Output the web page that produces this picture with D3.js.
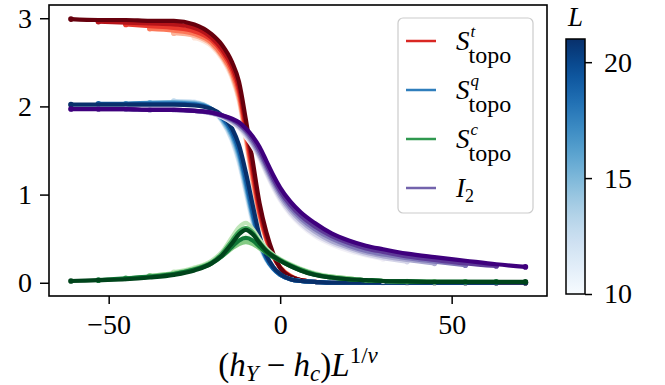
<!DOCTYPE html>
<html>
<head>
<meta charset="utf-8">
<script src="https://cdn.jsdelivr.net/npm/d3@7"></script>
<style>
  html, body { margin: 0; padding: 0; background: #fff; }
  svg { display: block; }
  text { font-family: "Liberation Serif", "Times New Roman", serif; fill: #000; }
</style>
</head>
<body>
<svg id="chart" width="665" height="385"></svg>
<script>
// Scaling variable (h_Y - h_c) L^{1/nu}, shared sample grid for all system sizes
const X_GRID = [-61, -53, -45, -38, -31, -25, -20, -17, -14, -12, -10, -8, -6, -4, -2, 0, 3, 6, 10, 15, 20, 25, 30, 37, 45, 54, 63, 71.5];
// System sizes L (one curve per size and quantity)
const SIZES = [11, 13, 15, 17, 19, 21];
const _ = null;

// S^t_topo, one row per size in SIZES
const sTopoT = [
  [_,_,_,_,_, 2.78, 2.68, 2.54, 2.31, 2.05, 1.60, 1.12, 0.73, 0.47, 0.30, 0.18, 0.08, 0.03, 0.01, 0, 0, 0, 0, _,_,_,_,_],
  [_,_,_,_, 2.83, 2.80, 2.70, 2.56, 2.34, 2.08, 1.63, 1.15, 0.75, 0.48, 0.30, 0.18, 0.08, 0.03, 0.01, 0, 0, 0, 0, 0, _,_,_,_],
  [_,_,_, 2.88, 2.86, 2.82, 2.72, 2.58, 2.37, 2.12, 1.67, 1.19, 0.77, 0.49, 0.30, 0.17, 0.08, 0.03, 0.01, 0, 0, 0, 0, 0, 0, _,_,_],
  [_,_, 2.93, 2.91, 2.89, 2.85, 2.75, 2.62, 2.41, 2.17, 1.72, 1.24, 0.80, 0.50, 0.30, 0.17, 0.07, 0.03, 0.01, 0, 0, 0, 0, 0, 0, 0, _,_],
  [_, 2.96, 2.95, 2.94, 2.93, 2.89, 2.78, 2.65, 2.45, 2.22, 1.78, 1.30, 0.84, 0.53, 0.31, 0.17, 0.07, 0.03, 0.01, 0, 0, 0, 0, 0, 0, 0, 0, _],
  [2.99, 2.98, 2.98, 2.97, 2.97, 2.93, 2.82, 2.70, 2.50, 2.28, 1.85, 1.38, 0.90, 0.57, 0.33, 0.17, 0.07, 0.03, 0.01, 0, 0, 0, 0, 0, 0, 0, 0, 0]
];

// S^q_topo
const sTopoQ = [
  [_,_,_,_,_, 2.05, 1.96, 1.83, 1.60, 1.35, 1.01, 0.67, 0.41, 0.25, 0.15, 0.09, 0.04, 0.02, 0.01, 0, 0, 0, 0, _,_,_,_,_],
  [_,_,_,_, 2.06, 2.05, 1.97, 1.84, 1.62, 1.38, 1.04, 0.70, 0.43, 0.26, 0.16, 0.09, 0.04, 0.02, 0.01, 0, 0, 0, 0, 0, _,_,_,_],
  [_,_,_, 2.04, 2.05, 2.04, 1.97, 1.85, 1.65, 1.42, 1.08, 0.73, 0.44, 0.27, 0.16, 0.09, 0.04, 0.02, 0.01, 0, 0, 0, 0, 0, 0, _,_,_],
  [_,_, 2.03, 2.04, 2.04, 2.03, 1.97, 1.87, 1.68, 1.46, 1.12, 0.76, 0.46, 0.27, 0.16, 0.09, 0.04, 0.02, 0.01, 0, 0, 0, 0, 0, 0, 0, _,_],
  [_, 2.03, 2.03, 2.03, 2.03, 2.02, 1.97, 1.88, 1.71, 1.50, 1.17, 0.80, 0.48, 0.28, 0.16, 0.09, 0.04, 0.02, 0.01, 0, 0, 0, 0, 0, 0, 0, 0, _],
  [2.02, 2.02, 2.02, 2.02, 2.02, 2.01, 1.97, 1.90, 1.75, 1.56, 1.25, 0.88, 0.53, 0.31, 0.18, 0.10, 0.04, 0.02, 0.01, 0, 0, 0, 0, 0, 0, 0, 0, 0]
];

// S^c_topo
const sTopoC = [
  [_,_,_,_,_, 0.17, 0.24, 0.31, 0.41, 0.48, 0.53, 0.50, 0.43, 0.36, 0.30, 0.26, 0.20, 0.15, 0.10, 0.07, 0.05, 0.03, 0.02, _,_,_,_,_],
  [_,_,_,_, 0.12, 0.17, 0.25, 0.35, 0.52, 0.63, 0.68, 0.61, 0.49, 0.39, 0.32, 0.27, 0.21, 0.16, 0.11, 0.07, 0.05, 0.03, 0.02, 0.015, _,_,_,_],
  [_,_,_, 0.08, 0.11, 0.16, 0.23, 0.30, 0.39, 0.44, 0.46, 0.44, 0.39, 0.34, 0.29, 0.25, 0.20, 0.15, 0.10, 0.07, 0.05, 0.03, 0.02, 0.015, 0.01, _,_,_],
  [_,_, 0.05, 0.07, 0.10, 0.15, 0.23, 0.33, 0.48, 0.58, 0.62, 0.57, 0.46, 0.37, 0.31, 0.26, 0.20, 0.15, 0.10, 0.06, 0.04, 0.03, 0.02, 0.015, 0.01, 0.01, _,_],
  [_, 0.03, 0.05, 0.07, 0.10, 0.15, 0.22, 0.30, 0.41, 0.48, 0.51, 0.48, 0.41, 0.34, 0.29, 0.25, 0.19, 0.14, 0.09, 0.06, 0.04, 0.03, 0.02, 0.015, 0.01, 0.01, 0.01, _],
  [0.02, 0.03, 0.04, 0.06, 0.09, 0.14, 0.22, 0.31, 0.45, 0.55, 0.60, 0.55, 0.45, 0.36, 0.30, 0.25, 0.19, 0.14, 0.09, 0.06, 0.04, 0.03, 0.02, 0.015, 0.01, 0.01, 0.01, 0.01]
];

// I_2
const iTwo = [
  [_,_,_,_,_, 1.95, 1.92, 1.88, 1.81, 1.75, 1.65, 1.54, 1.40, 1.23, 1.07, 0.93, 0.77, 0.65, 0.53, 0.43, 0.36, 0.31, 0.27, _,_,_,_,_],
  [_,_,_,_, 1.96, 1.95, 1.92, 1.88, 1.82, 1.76, 1.67, 1.56, 1.42, 1.25, 1.09, 0.95, 0.79, 0.67, 0.55, 0.45, 0.38, 0.32, 0.28, 0.24, _,_,_,_],
  [_,_,_, 1.96, 1.96, 1.95, 1.92, 1.89, 1.83, 1.77, 1.69, 1.58, 1.44, 1.28, 1.12, 0.98, 0.82, 0.70, 0.58, 0.47, 0.40, 0.34, 0.30, 0.26, 0.22, _,_,_],
  [_,_, 1.97, 1.96, 1.96, 1.95, 1.93, 1.89, 1.84, 1.79, 1.71, 1.60, 1.47, 1.31, 1.15, 1.01, 0.85, 0.73, 0.61, 0.50, 0.42, 0.36, 0.32, 0.28, 0.24, 0.20, _,_],
  [_, 1.97, 1.97, 1.96, 1.96, 1.95, 1.93, 1.90, 1.85, 1.80, 1.73, 1.63, 1.50, 1.34, 1.18, 1.04, 0.88, 0.76, 0.64, 0.53, 0.45, 0.39, 0.35, 0.30, 0.26, 0.22, 0.19, _],
  [1.97, 1.97, 1.97, 1.96, 1.96, 1.95, 1.93, 1.90, 1.86, 1.82, 1.75, 1.66, 1.54, 1.38, 1.22, 1.08, 0.92, 0.80, 0.68, 0.56, 0.48, 0.42, 0.38, 0.33, 0.29, 0.25, 0.21, 0.18]
];

const X_TICKS = [-50, 0, 50];
const Y_TICKS = [0, 1, 2, 3];
const CBAR_TICKS = [10, 15, 20];
const CBAR_RANGE = [10, 21];

const QUANTITIES = [
  { key: "t", values: sTopoT, cmap: d3.interpolateReds },
  { key: "q", values: sTopoQ, cmap: d3.interpolateBlues },
  { key: "c", values: sTopoC, cmap: d3.interpolateGreens },
  { key: "I", values: iTwo,   cmap: d3.interpolatePurples }
];

const FONT = "Liberation Serif";
const svg = d3.select("#chart");
const plot = { left: 49, right: 547, top: 5, bottom: 296 };

const x = d3.scaleLinear().domain([-67.4, 77.8]).range([plot.left, plot.right]);
const y = d3.scaleLinear().domain([-0.15, 3.15]).range([plot.bottom, plot.top]);
const sizeNorm = d3.scaleLinear().domain(CBAR_RANGE).range([0, 1]);

const line = d3.line()
  .defined(d => d[1] !== null)
  .x(d => x(d[0]))
  .y(d => y(d[1]))
  .curve(d3.curveMonotoneX);

const curves = svg.append("g");
QUANTITIES.forEach(q => {
  SIZES.forEach((L, i) => {
    const pts = X_GRID.map((xv, j) => [xv, q.values[i][j]]);
    const col = q.cmap(sizeNorm(L));
    curves.append("path")
      .attr("d", line(pts))
      .attr("fill", "none")
      .attr("stroke", col)
      .attr("stroke-width", 4.2)
      .attr("stroke-linejoin", "round")
      .attr("stroke-linecap", "round");
    const defined = pts.filter(d => d[1] !== null);
    curves.selectAll(null)
      .data([defined[0], defined[defined.length - 1]])
      .join("circle")
      .attr("cx", d => x(d[0]))
      .attr("cy", d => y(d[1]))
      .attr("r", 2.8)
      .attr("fill", col);
  });
});

// Axes
const xAxis = d3.axisBottom(x).tickValues(X_TICKS).tickSize(8).tickPadding(10);
const yAxis = d3.axisLeft(y).tickValues(Y_TICKS).tickFormat(d3.format("d")).tickSize(9).tickPadding(8);

const gx = svg.append("g").attr("transform", `translate(0,${plot.bottom})`).call(xAxis);
const gy = svg.append("g").attr("transform", `translate(${plot.left},0)`).call(yAxis);
[gx, gy].forEach(g => {
  g.attr("font-family", FONT);
  g.select(".domain").remove();
  g.selectAll(".tick line").attr("stroke", "#000").attr("stroke-width", 1.5);
  g.selectAll(".tick text").attr("font-size", 28).attr("font-family", FONT);
});

svg.append("rect")
  .attr("x", plot.left).attr("y", plot.top)
  .attr("width", plot.right - plot.left).attr("height", plot.bottom - plot.top)
  .attr("fill", "none").attr("stroke", "#000").attr("stroke-width", 1.6);

// X axis label: (h_Y - h_c) L^{1/nu}
const xl = svg.append("text")
  .attr("x", (plot.left + plot.right) / 2)
  .attr("y", 376)
  .attr("text-anchor", "middle")
  .attr("font-size", 33);
xl.append("tspan").text("(");
xl.append("tspan").attr("font-style", "italic").text("h");
xl.append("tspan").attr("font-style", "italic").attr("font-size", 23).attr("dy", 5).text("Y");
xl.append("tspan").attr("dy", -5).text(" − ");
xl.append("tspan").attr("font-style", "italic").text("h");
xl.append("tspan").attr("font-style", "italic").attr("font-size", 23).attr("dy", 5).text("c");
xl.append("tspan").attr("dy", -5).text(")");
xl.append("tspan").attr("font-style", "italic").text("L");
xl.append("tspan").attr("font-size", 23).attr("dy", -13).text("1/");
xl.append("tspan").attr("font-size", 23).attr("font-style", "italic").text("ν");

// Legend
const legend = svg.append("g");
legend.append("rect")
  .attr("x", 398).attr("y", 18).attr("width", 135).attr("height", 195)
  .attr("rx", 5)
  .attr("fill", "#fff").attr("fill-opacity", 0.8)
  .attr("stroke", "#cccccc").attr("stroke-width", 1.2);

const legendItems = [
  { cmap: d3.interpolateReds,    base: "S", sup: "t", sub: "topo" },
  { cmap: d3.interpolateBlues,   base: "S", sup: "q", sub: "topo" },
  { cmap: d3.interpolateGreens,  base: "S", sup: "c", sub: "topo" },
  { cmap: d3.interpolatePurples, base: "I", sup: null, sub: "2" }
];
legendItems.forEach((it, i) => {
  const cy = 41 + i * 49;
  legend.append("line")
    .attr("x1", 406).attr("x2", 436).attr("y1", cy).attr("y2", cy)
    .attr("stroke", it.cmap(0.7)).attr("stroke-width", 2.5);
  const base = legend.append("text")
    .attr("x", 456).attr("y", cy + 9)
    .attr("font-size", 27).attr("font-style", "italic")
    .text(it.base);
  const w = base.node().getComputedTextLength();
  if (it.sup) {
    legend.append("text")
      .attr("x", 456 + w + 1).attr("y", cy - 4)
      .attr("font-size", 17).attr("font-style", "italic")
      .text(it.sup);
    legend.append("text")
      .attr("x", 456 + w - 1).attr("y", cy + 22)
      .attr("font-size", 24)
      .text(it.sub);
  } else {
    legend.append("text")
      .attr("x", 456 + w).attr("y", cy + 14)
      .attr("font-size", 18)
      .text(it.sub);
  }
});

// Colour bar for system size L
const cb = { x: 566, w: 19, top: 39, bottom: 294 };
const cbScale = d3.scaleLinear().domain(CBAR_RANGE).range([cb.bottom, cb.top]);
const defs = svg.append("defs");
const grad = defs.append("linearGradient")
  .attr("id", "cbGrad").attr("x1", 0).attr("y1", 1).attr("x2", 0).attr("y2", 0);
d3.range(0, 1.0001, 0.05).forEach(t => {
  grad.append("stop").attr("offset", t).attr("stop-color", d3.interpolateBlues(t));
});
svg.append("rect")
  .attr("x", cb.x).attr("y", cb.top).attr("width", cb.w).attr("height", cb.bottom - cb.top)
  .attr("fill", "url(#cbGrad)")
  .attr("stroke", "#000").attr("stroke-width", 1.5);

const cbAxis = d3.axisRight(cbScale).tickValues(CBAR_TICKS).tickSize(7).tickPadding(12);
const gcb = svg.append("g").attr("transform", `translate(${cb.x + cb.w},0)`).call(cbAxis);
gcb.attr("font-family", FONT);
gcb.select(".domain").remove();
gcb.selectAll(".tick line").attr("stroke", "#000").attr("stroke-width", 1.5);
gcb.selectAll(".tick text").attr("font-size", 28).attr("font-family", FONT);

svg.append("text")
  .attr("x", cb.x + cb.w / 2).attr("y", 26)
  .attr("text-anchor", "middle")
  .attr("font-size", 27).attr("font-style", "italic")
  .text("L");
</script>
</body>
</html>
